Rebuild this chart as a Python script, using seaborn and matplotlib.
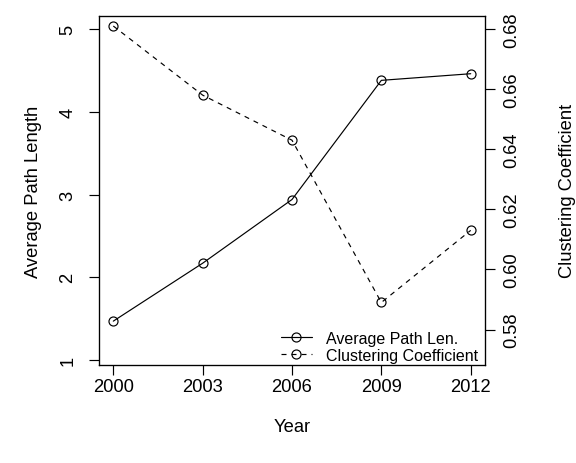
import matplotlib
matplotlib.use("Agg")
import matplotlib.pyplot as plt
import pandas as pd
import seaborn as sns

# Network statistics by year
years = [2000, 2003, 2006, 2009, 2012]
avg_path_length = [1.47, 2.17, 2.94, 4.38, 4.46]
clustering_coef = [0.681, 0.658, 0.643, 0.589, 0.613]

left_ticks = [1, 2, 3, 4, 5]
right_ticks = [0.58, 0.60, 0.62, 0.64, 0.66, 0.68]
right_tick_labels = ["0.58", "0.60", "0.62", "0.64", "0.66", "0.68"]

df = pd.DataFrame({"Year": years, "APL": avg_path_length, "CC": clustering_coef})

sns.set_style("white")
plt.rcParams["font.family"] = ["Liberation Sans", "DejaVu Sans"]
plt.rcParams["lines.scale_dashes"] = False
for key in ("text.color", "axes.labelcolor", "xtick.color", "ytick.color",
            "xtick.labelcolor", "ytick.labelcolor"):
    plt.rcParams[key] = "black"

W, H = 576, 464
fig = plt.figure(figsize=(W / 100, H / 100), dpi=100)
L, R, T, B = 99, 485, 16.8, 366
ax = fig.add_axes([L / W, 1 - B / H, (R - L) / W, (B - T) / H])
ax2 = ax.twinx()

lw = 0.85
common = dict(color="black", marker="o", markersize=6.5, markerfacecolor="none",
              markeredgecolor="black", markeredgewidth=lw, linewidth=lw, legend=False)

sns.lineplot(data=df, x="Year", y="APL", ax=ax, linestyle="-",
             label="Average Path Len.", **common)
sns.lineplot(data=df, x="Year", y="CC", ax=ax2, linestyle=(0, (3.6, 3.6)),
             label="Clustering Coefficient", **common)

ax.set_xlim(2000 - 0.48, 2012 + 0.48)
ax.set_ylim(0.94, 5.16)
ax2.set_ylim(0.5682, 0.6844)

tick_len = 7.2
fs = 13.2
ax.set_xticks(years)
ax.set_xticklabels([str(y) for y in years], fontsize=fs)
ax.set_yticks(left_ticks)
ax.set_yticklabels([str(t) for t in left_ticks], fontsize=fs, rotation=90, va="center")
ax2.set_yticks(right_ticks)
ax2.set_yticklabels(right_tick_labels, fontsize=fs, rotation=90, va="center")

ax.tick_params(axis="x", direction="out", length=tick_len, width=lw, pad=1.8,
               bottom=True)
ax.tick_params(axis="y", direction="out", length=tick_len, width=lw, pad=9.0,
               left=True)
ax2.tick_params(axis="y", direction="out", length=tick_len, width=lw, pad=5.8,
                right=True)

for a in (ax, ax2):
    for s in a.spines.values():
        s.set_visible(True)
        s.set_color("black")
        s.set_linewidth(lw)

ax.set_xlabel("Year", fontsize=fs)
ax.xaxis.set_label_coords(0.5, -(428 - B) / (B - T))
ax.xaxis.label.set_va("center")
ax.set_ylabel("Average Path Length", fontsize=fs)
ax.yaxis.set_label_coords((42.4 - L) / (R - L), 0.5)
ax2.set_ylabel("Clustering Coefficient", fontsize=fs)
ax2.yaxis.set_label_coords((559 - L) / (R - L), 0.5)

h1, l1 = ax.get_legend_handles_labels()
h2, l2 = ax2.get_legend_handles_labels()
ax2.legend(h1 + h2, l1 + l2, loc="lower right", bbox_to_anchor=(1 - 5 / (R - L), 0),
           frameon=False, fontsize=11.5, handlelength=1.9, handletextpad=0.9,
           labelspacing=0.15, borderpad=0.12, borderaxespad=0, numpoints=1)

fig.savefig("out.png", dpi=100, facecolor="white")
